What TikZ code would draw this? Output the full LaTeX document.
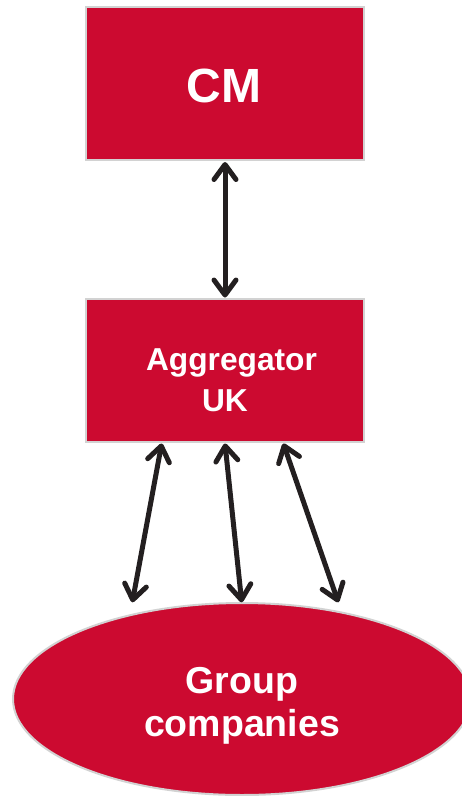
\documentclass[tikz,border=0pt]{standalone}
\usepackage{fontspec}
\setmainfont{Liberation Sans}
\usetikzlibrary{arrows.meta,shapes.geometric}
\definecolor{boxred}{RGB}{204,10,48}
\definecolor{arrowdark}{RGB}{35,31,32}
\definecolor{edgegrey}{RGB}{210,210,210}
\tikzset{
  redbox/.style={draw=edgegrey,line width=2pt,fill=boxred,minimum width=278pt,inner sep=0pt},
  redoval/.style={ellipse,draw=edgegrey,line width=2pt,fill=boxred,minimum width=458pt,minimum height=192pt,inner sep=0pt},
  boxtext/.style={text=white,anchor=base,inner sep=0pt},
  link/.style={draw=arrowdark,line width=5pt,{Straight Barb[length=15pt,width=22pt,line cap=round,line join=round]}-{Straight Barb[length=15pt,width=22pt,line cap=round,line join=round]}}
}
\begin{document}
\begin{tikzpicture}[x=1pt,y=-1pt]
\useasboundingbox (0,0) rectangle (462,796);
\begin{scope}
\clip (0,0) rectangle (462,796);
\node[redbox,minimum height=153pt] (cm) at (225,83.5) {};
\node[redbox,minimum height=143pt] (agg) at (225,370.5) {};
\node[redoval] (grp) at (242,699) {};
\end{scope}
\node[boxtext,font=\bfseries\fontsize{48}{48}\selectfont] (cmtext) at (224,102.7) {CM};
\node[boxtext,font=\bfseries\fontsize{31.7}{31.7}\selectfont] (aggtext) at (231.5,370) {Aggregator};
\node[boxtext,font=\bfseries\fontsize{31.7}{31.7}\selectfont] (uktext) at (225,411.7) {UK};
\node[boxtext,font=\bfseries\fontsize{37.5}{37.5}\selectfont] (grptext) at (242,693.3) {Group};
\node[boxtext,font=\bfseries\fontsize{37.5}{37.5}\selectfont] (comptext) at (242,736) {companies};
% arrow end points on the shapes
\coordinate (cmb) at (225,162);
\coordinate (aggt) at (225,297.5);
\coordinate (agg1) at (161.7,443.5);
\coordinate (agg2) at (225,443.5);
\coordinate (agg3) at (283.3,443.5);
\coordinate (grp1) at (132.3,602.3);
\coordinate (grp2) at (241.7,602.3);
\coordinate (grp3) at (338.3,602.3);
\draw[link] (cmb) -- (aggt);
\draw[link] (agg1) -- (grp1);
\draw[link] (agg2) -- (grp2);
\draw[link] (agg3) -- (grp3);
\end{tikzpicture}
\end{document}
